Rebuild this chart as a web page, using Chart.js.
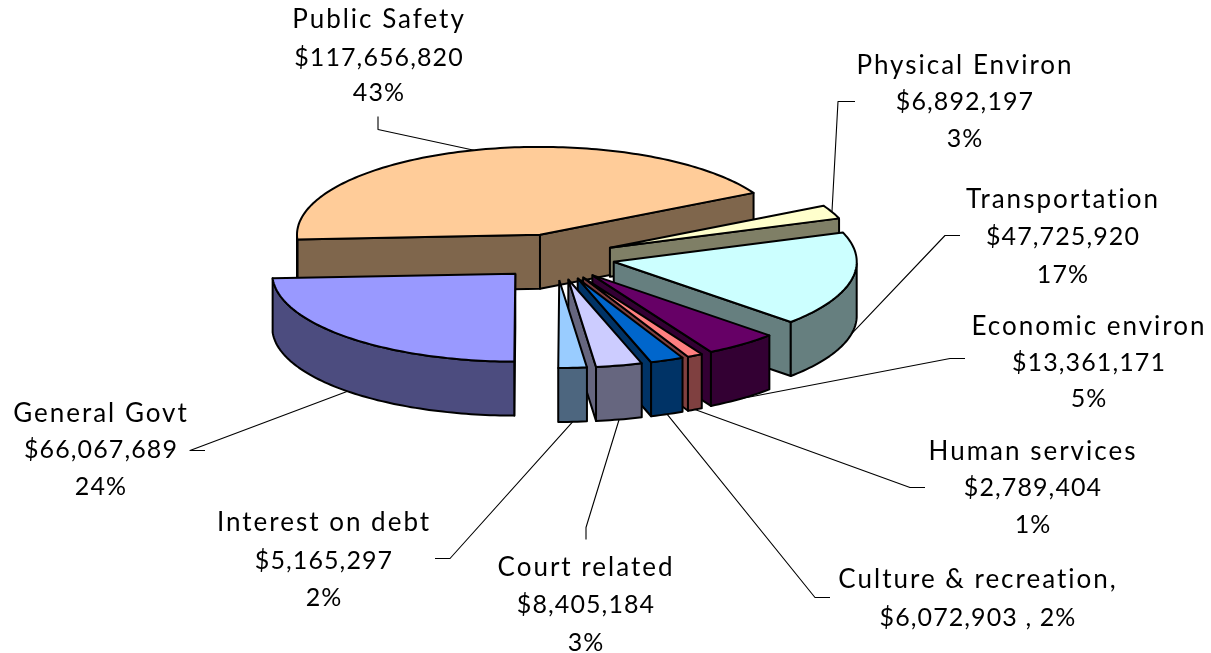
<!DOCTYPE html>
<html><head><meta charset="utf-8">
<style>html,body{margin:0;padding:0;background:#fff}canvas{display:block}</style>
<script src="https://cdn.jsdelivr.net/npm/chart.js@4"></script>
</head><body><canvas id="c" width="1211" height="653"></canvas>
<script>
const categories = ["Public Safety","Physical Environ","Transportation","Economic environ","Human services","Culture & recreation,","Court related","Interest on debt","General Govt"];
const values = [117656820,6892197,47725920,13361171,2789404,6072903,8405184,5165297,66067689];
const percents = ["43%","3%","17%","5%","1%","2%","3%","2%","24%"];
const topColors = ["#FFCC99","#FFFFCC","#CCFFFF","#660066","#FF8080","#0066CC","#CCCCFF","#99CCFF","#9999FF"];
const sideColors = ["#7F664C","#7F7F66","#667F7F","#330033","#7F4040","#003366","#66667F","#4D667F","#4C4C7F"];
const wallDepths = [54,29,54,54,54,54,54,54,54];
// text layout: centre x, centre y of each line
const labelPos = [[379,[20,58,93]],[965,[66,102,139]],[1063,[200,237,275]],[1089,[327,363,399]],[1033,[452,488,525]],[978,[580,618]],[586,[568,605,643]],[324,[523,561,598]],[101,[414,450,487]]];
// leader elbows from the text towards the slice
const leaderElbows = [[[378,116],[378,129]],[[855,101],[838,101]],[[960,235],[945,235]],[[965,358],[950,358]],[[925,487],[910,487]],[[830,597],[815,597]],[[586,539],[586,527]],[[435,558],[450,558]],[[205,450],[190,450]]];
const leaderOnBottom = [false,false,true,true,true,true,true,true,true];
const EXPLODE=59, TILT_OFFSET=0.39, TILT=0.362;

function fmt(v){return "$"+v.toLocaleString("en-US");}
function labelLines(i){
  if(i===5) return [categories[i], fmt(values[i])+" , "+percents[i]];
  return [categories[i], fmt(values[i]), percents[i]];
}
function poly(ctx,pts,fill,stroke){
  ctx.beginPath();pts.forEach((p,k)=>k?ctx.lineTo(p[0],p[1]):ctx.moveTo(p[0],p[1]));
  if(fill){ctx.closePath();ctx.fillStyle=fill;ctx.fill();}
  if(stroke!==false){ctx.strokeStyle="#000";ctx.lineWidth=2;ctx.lineJoin="round";ctx.stroke();}
}
const pie3d={id:"pie3d",beforeDatasetsDraw(chart){
  const ctx=chart.ctx, arcs=chart.getDatasetMeta(0).data;
  const geo=arcs.map(a=>{
    const mid=(a.startAngle+a.endAngle)/2;
    const ax=a.x+EXPLODE*Math.cos(mid), ay=a.y+EXPLODE*TILT_OFFSET*Math.sin(mid);
    const pt=t=>[ax+a.outerRadius*Math.cos(t), ay+a.outerRadius*TILT*Math.sin(t)];
    return {a,mid,ax,ay,pt};
  });
  geo.forEach((g,i)=>{
    const {a,ax,ay,pt}=g, D=wallDepths[i], side=sideColors[i];
    const face=(p,q)=>{ if(q[0]-p[0]<0.01) poly(ctx,[p,q,[q[0],q[1]+D],[p[0],p[1]+D]],side); };
    const s=pt(a.startAngle), e=pt(a.endAngle);
    face([ax,ay],s);
    face(e,[ax,ay]);
    // outer wall
    const top=[];const n=Math.max(4,Math.ceil((a.endAngle-a.startAngle)/0.02));
    for(let k=0;k<=n;k++){const t=a.startAngle+(a.endAngle-a.startAngle)*k/n; if(Math.sin(t)>=-0.001) top.push(pt(t));}
    if(top.length>1){poly(ctx,top.concat(top.slice().reverse().map(p=>[p[0],p[1]+D])),side);}
    // top face drawn by the library's arc element
    ctx.save();ctx.translate(ax,ay);ctx.scale(1,TILT);ctx.translate(-a.x,-a.y);a.draw(ctx);ctx.restore();
    const rim=[[ax,ay]];for(let k=0;k<=n;k++){rim.push(pt(a.startAngle+(a.endAngle-a.startAngle)*k/n));}
    rim.push([ax,ay]);poly(ctx,rim,null);
  });
  // leaders
  geo.forEach((g,i)=>{
    const p=g.pt(g.mid), end=[p[0],p[1]+(leaderOnBottom[i]?wallDepths[i]:0)];
    ctx.beginPath();const l=leaderElbows[i];ctx.moveTo(l[0][0],l[0][1]+.5);ctx.lineTo(l[1][0],l[1][1]+.5);ctx.lineTo(end[0],end[1]);
    ctx.strokeStyle="#000";ctx.lineWidth=1.1;ctx.stroke();
  });
  // labels
  ctx.fillStyle="#000";ctx.textAlign="center";ctx.textBaseline="middle";
  categories.forEach((c,i)=>{labelLines(i).forEach((t,k)=>{
    const isName=k===0;
    ctx.font=isName?"26px Lato":"25px Lato";
    if("letterSpacing" in ctx) ctx.letterSpacing=isName?"2px":"1.1px";
    ctx.fillText(t,labelPos[i][0],labelPos[i][1][k]);
  });});
  return false;
}};
new Chart(document.getElementById("c"),{type:"pie",
  data:{labels:categories,datasets:[{data:values,backgroundColor:topColors,borderWidth:0,offset:0}]},
  options:{responsive:false,animation:false,rotation:267,radius:243,
    layout:{padding:{left:0,right:99,top:0,bottom:139}},
    plugins:{legend:{display:false},tooltip:{enabled:false},title:{display:false}}},
  plugins:[pie3d]});
</script></body></html>
